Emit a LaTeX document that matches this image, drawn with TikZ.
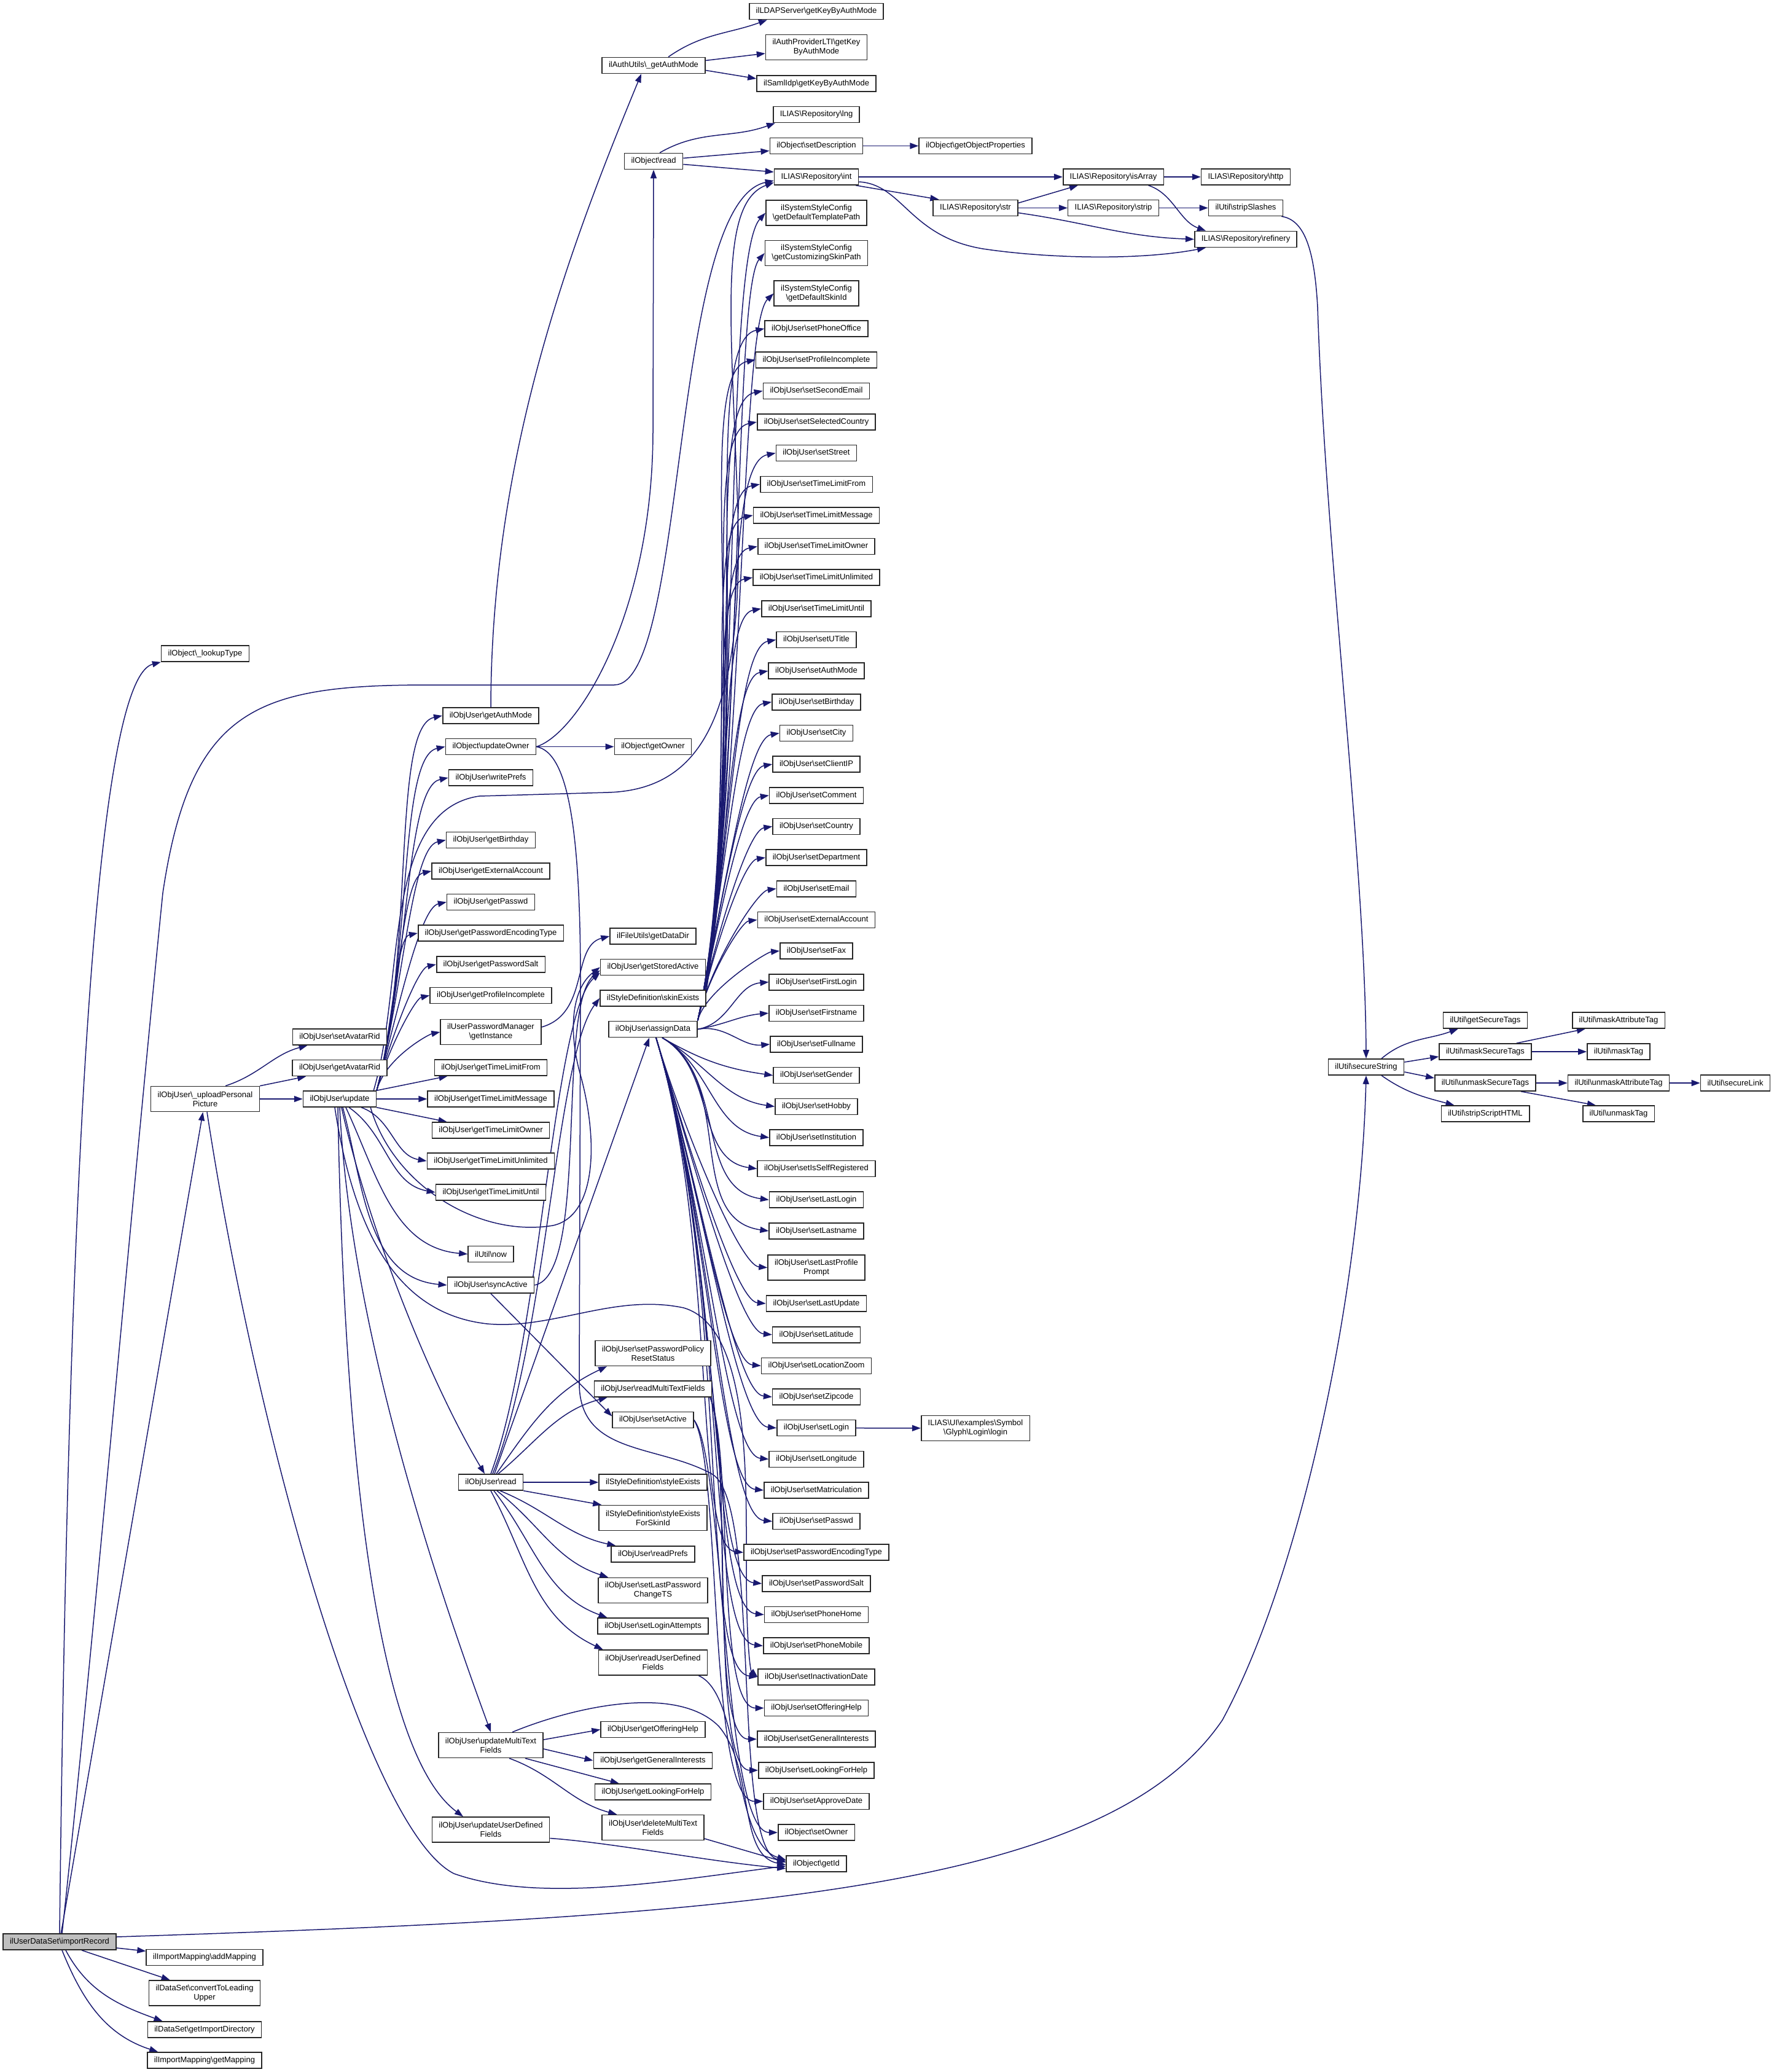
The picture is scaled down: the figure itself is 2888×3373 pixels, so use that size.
\documentclass[tikz,border=0pt]{standalone}
\usepackage{fontspec}
\setmainfont{Liberation Sans}
\usetikzlibrary{arrows.meta,calc,backgrounds}
\definecolor{edgeblue}{HTML}{191970}
\newcommand\bksl{\textbackslash}
\begin{document}
\begin{tikzpicture}[x=1pt,y=1pt,
 box/.style={draw=black!85,line width=1.6pt,fill=white,inner xsep=11pt,inner ysep=2pt,minimum height=26pt,font=\fontsize{13}{15}\selectfont,align=center},
 two/.style={minimum height=41pt},
 edge/.style={draw=edgeblue,line width=1.5pt,-{Triangle[length=14pt,width=10pt]}},
 fanB/.style={out=-30,in=172},
 ufan/.style={out=75,in=192,out looseness=1.0,in looseness=0.35}]
\useasboundingbox (0,0) rectangle (2888,-3373);
% ---------- column 0/1
\node[box,fill=black!25] (IR) at (97,-3161) {ilUserDataSet\bksl importRecord};
\node[box] (addMap) at (333,-3186.5) {ilImportMapping\bksl addMapping};
\node[box,two] (convLU) at (333,-3244.5) {ilDataSet\bksl convertToLeading\\Upper};
\node[box] (getImpDir) at (333,-3304) {ilDataSet\bksl getImportDirectory};
\node[box] (getMap) at (333,-3354) {ilImportMapping\bksl getMapping};
\node[box] (lookupType) at (334,-1064) {ilObject\bksl\_lookupType};
\node[box,two] (UPP) at (334,-1789) {ilObjUser\bksl\_uploadPersonal\\Picture};
% ---------- column 2
\node[box] (setAvRid) at (553,-1688) {ilObjUser\bksl setAvatarRid};
\node[box] (getAvRid) at (553,-1738.5) {ilObjUser\bksl getAvatarRid};
\node[box] (upd) at (553,-1789) {ilObjUser\bksl update};
% ---------- column 3
\foreach \n/\y/\t in {getAuthMode/1165/getAuthMode,writePrefs/1266/writePrefs,getBirthday/1367.5/getBirthday,getExtAcc/1418/getExternalAccount,getPasswd/1468.5/getPasswd,getPwEnc/1519/getPasswordEncodingType,getPwSalt/1570/getPasswordSalt,getProfInc/1620.5/getProfileIncomplete,gTLFrom/1738/getTimeLimitFrom,gTLMsg/1789/getTimeLimitMessage,gTLOwner/1840/getTimeLimitOwner,gTLUnl/1890/getTimeLimitUnlimited,gTLUntil/1941/getTimeLimitUntil,syncActive/2092/syncActive,uread/2413/read}
  {\node[box] (\n) at (799,-\y) {ilObjUser\bksl\t};}
\node[box] (updOwner) at (799,-1215.5) {ilObject\bksl updateOwner};
\node[box,two] (pwMgr) at (799,-1680) {ilUserPasswordManager\\\bksl getInstance};
\node[box] (now) at (799,-2041.5) {ilUtil\bksl now};
\node[box,two] (updMTF) at (799,-2841) {ilObjUser\bksl updateMultiText\\Fields};
\node[box,two] (updUDF) at (799,-2978.5) {ilObjUser\bksl updateUserDefined\\Fields};
% ---------- column 4
\node[box] (authUtils) at (1064,-106.5) {ilAuthUtils\bksl\_getAuthMode};
\node[box] (oread) at (1064,-262.5) {ilObject\bksl read};
\node[box] (getOwner) at (1063,-1215.5) {ilObject\bksl getOwner};
\node[box] (getDataDir) at (1063,-1524) {ilFileUtils\bksl getDataDir};
\node[box] (skinExists) at (1063,-1625) {ilStyleDefinition\bksl skinExists};
\foreach \n/\y/\t in {getStoredActive/1574.5/getStoredActive,assignData/1675.5/assignData,readMTF/2261/readMultiTextFields,setActive/2311.5/setActive,readPrefs/2530/readPrefs,sLoginAtt/2647/setLoginAttempts,gOffHelp/2815.5/getOfferingHelp,gGenInt/2866/getGeneralInterests,gLookHelp/2917/getLookingForHelp}
  {\node[box] (\n) at (1063,-\y) {ilObjUser\bksl\t};}
\node[box,two] (sPPRS) at (1063,-2203) {ilObjUser\bksl setPasswordPolicy\\ResetStatus};
\node[box] (styleExists) at (1063,-2413) {ilStyleDefinition\bksl styleExists};
\node[box,two] (styleExistsFS) at (1063,-2471) {ilStyleDefinition\bksl styleExists\\ForSkinId};
\node[box,two] (sLPCTS) at (1063,-2589) {ilObjUser\bksl setLastPassword\\ChangeTS};
\node[box,two] (readUDF) at (1063,-2706.5) {ilObjUser\bksl readUserDefined\\Fields};
\node[box,two] (delMTF) at (1063,-2975) {ilObjUser\bksl deleteMultiText\\Fields};
% ---------- column 5
\node[box] (ldap) at (1329,-18.5) {ilLDAPServer\bksl getKeyByAuthMode};
\node[box,two] (lti) at (1329,-77) {ilAuthProviderLTI\bksl getKey\\ByAuthMode};
\node[box] (saml) at (1329,-136) {ilSamlIdp\bksl getKeyByAuthMode};
\node[box] (lng) at (1329,-186.5) {ILIAS\bksl Repository\bksl lng};
\node[box] (setDesc) at (1329,-237.5) {ilObject\bksl setDescription};
\node[box] (rint) at (1329,-288) {ILIAS\bksl Repository\bksl int};
\node[box,two] (dtp) at (1329,-346.5) {ilSystemStyleConfig\\\bksl getDefaultTemplatePath};
\node[box,two] (csp) at (1329,-412) {ilSystemStyleConfig\\\bksl getCustomizingSkinPath};
\node[box,two] (dsi) at (1329,-477.7) {ilSystemStyleConfig\\\bksl getDefaultSkinId};
\foreach \n/\y/\t in {sPhoneOffice/535/setPhoneOffice,sProfileIncomplete/585.7/setProfileIncomplete,sSecondEmail/636.3/setSecondEmail,sSelectedCountry/687/setSelectedCountry,sStreet/737.6/setStreet,sTLFrom/788.3/setTimeLimitFrom,sTLMessage/838.9/setTimeLimitMessage,sTLOwner/889.6/setTimeLimitOwner,sTLUnlimited/940.2/setTimeLimitUnlimited,sTLUntil/990.9/setTimeLimitUntil,sUTitle/1041.5/setUTitle,sAuthMode/1092.2/setAuthMode,sBirthday/1142.8/setBirthday,sCity/1193.5/setCity,sClientIP/1244.1/setClientIP,sComment/1294.8/setComment,sCountry/1345.4/setCountry,sDepartment/1396.1/setDepartment,sEmail/1446.7/setEmail,sExtAcc/1497.4/setExternalAccount,sFax/1548/setFax,sFirstLogin/1598.7/setFirstLogin,sFirstname/1649.3/setFirstname,sFullname/1700/setFullname,sGender/1750.6/setGender,sHobby/1801.3/setHobby,sInstitution/1851.9/setInstitution,sIsSelfReg/1902.6/setIsSelfRegistered,sLastLogin/1953.2/setLastLogin,sLastname/2003.9/setLastname,sLastUpdate/2122/setLastUpdate,sLatitude/2172.7/setLatitude,sLocationZoom/2223.3/setLocationZoom,sZipcode/2274/setZipcode,sLogin/2324.6/setLogin,sLongitude/2375.3/setLongitude,sMatriculation/2425.9/setMatriculation,sPasswd/2476.6/setPasswd,sPwEnc/2527.2/setPasswordEncodingType,sPwSalt/2577.9/setPasswordSalt,sPhoneHome/2628.5/setPhoneHome,sPhoneMobile/2679.2/setPhoneMobile,sInactivation/2729.8/setInactivationDate,sOfferingHelp/2780.5/setOfferingHelp,sGeneralInterests/2831.1/setGeneralInterests,sLookingForHelp/2881.8/setLookingForHelp,sApproveDate/2932.4/setApproveDate}
  {\node[box] (\n) at (1329,-\y) {ilObjUser\bksl\t};}
\node[box,two] (sLastProfilePrompt) at (1329,-2063.5) {ilObjUser\bksl setLastProfile\\Prompt};
\node[box] (setOwner) at (1329,-2983.1) {ilObject\bksl setOwner};
\node[box] (getId) at (1329,-3033.7) {ilObject\bksl getId};
% ---------- right part
\node[box] (getObjProps) at (1588,-237.5) {ilObject\bksl getObjectProperties};
\node[box] (rstr) at (1588,-338.5) {ILIAS\bksl Repository\bksl str};
\node[box,two] (uiLogin) at (1588,-2325) {ILIAS\bksl UI\bksl examples\bksl Symbol\\\bksl Glyph\bksl Login\bksl login};
\node[box] (isArray) at (1812.5,-288) {ILIAS\bksl Repository\bksl isArray};
\node[box] (strip) at (1812.5,-338.5) {ILIAS\bksl Repository\bksl strip};
\node[box] (rhttp) at (2028,-288) {ILIAS\bksl Repository\bksl http};
\node[box] (stripSlashes) at (2028,-338.5) {ilUtil\bksl stripSlashes};
\node[box] (refinery) at (2028,-389.5) {ILIAS\bksl Repository\bksl refinery};
\node[box] (secStr) at (2224,-1737) {ilUtil\bksl secureString};
\node[box] (getSecTags) at (2418,-1661) {ilUtil\bksl getSecureTags};
\node[box] (maskSecTags) at (2418,-1712) {ilUtil\bksl maskSecureTags};
\node[box] (unmaskSecTags) at (2418,-1763) {ilUtil\bksl unmaskSecureTags};
\node[box] (stripScript) at (2418,-1813) {ilUtil\bksl stripScriptHTML};
\node[box] (maskAttr) at (2635,-1661) {ilUtil\bksl maskAttributeTag};
\node[box] (maskTag) at (2635,-1712) {ilUtil\bksl maskTag};
\node[box] (unmaskAttr) at (2635,-1763) {ilUtil\bksl unmaskAttributeTag};
\node[box] (unmaskTag) at (2635,-1813) {ilUtil\bksl unmaskTag};
\node[box] (secLink) at (2825,-1763) {ilUtil\bksl secureLink};

\begin{pgfonlayer}{background}
\fill[white] (0,0) rectangle (2888,-3373);
% importRecord
\draw[edge] (IR.north) .. controls (115,-1600) and (175,-1100) .. (lookupType.south west);
\draw[edge] ($(IR.north)+(4,0)$) .. controls (150,-2700) and (215,-1950) .. (265,-1454) .. controls (310,-1150) and (420,-1115) .. (700,-1115) -- (1000,-1115) .. controls (1120,-1115) and (1090,-330) .. ($(rint.west)+(0,-6)$);
\draw[edge] (IR) -- (UPP);
\draw[edge] ($(IR.east)+(0,8)$) .. controls (1200,-3120) and (1800,-3080) .. (1990,-2800) .. controls (2120,-2560) and (2215,-2100) .. (secStr.south);
\draw[edge] (IR) -- (addMap);
\draw[edge] ($(IR.south)+(36,0)$) -- ($(convLU.north west)+(35,0)$);
\draw[edge] ($(IR.south)+(10,0)$) to[out=-62,in=160] ($(getImpDir.north west)+(25,0)$);
\draw[edge] ($(IR.south)+(4,0)$) to[out=-68,in=162] ($(getMap.north west)+(18,0)$);
% uploadPersonalPicture
\draw[edge] ($(UPP.north)+(33,0)$) to[out=18,in=-165] ($(setAvRid.south west)+(25,0)$);
\draw[edge] (UPP.north east) -- ($(getAvRid.south west)+(23,0)$);
\draw[edge] (UPP) -- (upd);
\draw[edge] ($(UPP.south)+(3,0)$) .. controls (420,-2350) and (600,-2980) .. (739,-3050) .. controls (880,-3100) and (1100,-3060) .. ($(getId.west)+(0,-4)$);
% update
\foreach \t in {getAuthMode,updOwner,writePrefs,getBirthday,getExtAcc,getPasswd,getPwEnc,getPwSalt,getProfInc,pwMgr}
  \draw[edge] (upd.north east) to[ufan] (\t.west);
\draw[edge] (upd.north east) -- ($(gTLFrom.south west)+(22,0)$);
\draw[edge] (upd) -- (gTLMsg);
\draw[edge] (upd.south east) -- ($(gTLOwner.north west)+(25,0)$);
\draw[edge] ($(upd.south east)+(-25,0)$) to[out=-20,in=170] (gTLUnl.west);
\draw[edge] ($(upd.south east)+(-45,0)$) to[out=-35,in=170] (gTLUntil.west);
\draw[edge] ($(upd.south)+(10,0)$) to[out=-65,in=175] (now.west);
\draw[edge] ($(upd.south)+(5,0)$) to[out=-75,in=175] (syncActive.west);
\draw[edge] ($(upd.south)+(3,0)$) .. controls (600,-2000) and (700,-2250) .. ($(uread.north)+(-10,0)$);
\draw[edge] (upd.south) .. controls (570,-2150) and (700,-2550) .. (updMTF.north);
\draw[edge] ($(upd.south)+(-3,0)$) .. controls (560,-2350) and (610,-2850) .. ($(updUDF.north)+(-45,0)$);
\draw[edge] ($(upd.north east)+(-5,0)$) .. controls (660,-1600) and (620,-1320) .. (780,-1296) -- (990,-1290) .. controls (1150,-1285) and (1215,-1150) .. (1200,-800) .. controls (1190,-520) and (1170,-330) .. ($(rint.west)+(0,-9)$);
\draw[edge] ($(upd.south east)+(-10,0)$) .. controls (640,-1930) and (780,-2015) .. (900,-1995) .. controls (970,-1980) and (975,-1860) .. (945,-1750) .. controls (925,-1680) and (930,-1610) .. (getStoredActive.west);
\draw[edge] ($(upd.south)+(-8,0)$) .. controls (580,-2030) and (660,-2140) .. (793,-2155) .. controls (900,-2165) and (1000,-2105) .. (1113,-2129) .. controls (1220,-2160) and (1215,-2400) .. (1215,-2550) .. controls (1215,-2680) and (1222,-2720) .. (sInactivation.west);
% column 3 sources
\draw[edge] (getAuthMode.north) .. controls (800,-750) and (920,-420) .. ($(authUtils.south)+(-20,0)$);
\draw[edge] (updOwner) -- (getOwner);
\draw[edge] (updOwner.east) .. controls (940,-1195) and (1063,-1000) .. (1063,-700) -- (oread.south);
\draw[edge] (updOwner.east) .. controls (925,-1225) and (945,-1350) .. (945,-1600) -- (943,-2250) .. controls (942,-2370) and (1070,-2350) .. (1160,-2400) .. controls (1240,-2450) and (1190,-3010) .. ($(getId.west)+(0,4)$);
\draw[edge] ($(pwMgr.east)+(0,8)$) .. controls (960,-1650) and (930,-1540) .. (getDataDir.west);
\draw[edge] (syncActive.east) .. controls (960,-2075) and (905,-1640) .. ($(getStoredActive.west)+(0,-5)$);
\draw[edge] (syncActive.south) -- ($(setActive.west)+(0,6)$);
% ilObjUser read
\draw[edge] ($(uread.north)+(6,0)$) -- ($(assignData.south)+(-6,0)$);
\draw[edge] ($(uread.north)+(3,0)$) .. controls (890,-2180) and (905,-1720) .. (skinExists.west);
\draw[edge] (uread.north) .. controls (880,-2180) and (900,-1650) .. ($(getStoredActive.west)+(0,-9)$);
\draw[edge] ($(uread.north)+(9,0)$) to[out=55,in=205] ($(sPPRS.south west)+(20,0)$);
\draw[edge] ($(uread.north)+(12,0)$) to[out=40,in=195] ($(readMTF.south west)+(22,0)$);
\draw[edge] (uread) -- (styleExists);
\draw[edge] (uread.south east) -- ($(styleExistsFS.north west)+(5,0)$);
\draw[edge] ($(uread.south)+(15,0)$) to[out=-22,in=168] ($(readPrefs.north west)+(8,0)$);
\draw[edge] ($(uread.south)+(10,0)$) to[out=-38,in=162] ($(sLPCTS.north west)+(17,0)$);
\draw[edge] ($(uread.south)+(5,0)$) to[out=-52,in=160] ($(sLoginAtt.north west)+(16,0)$);
\draw[edge] (uread.south) to[out=-62,in=155] ($(readUDF.north west)+(8,0)$);
% updateMultiTextFields etc.
\draw[edge] ($(updMTF.east)+(0,9)$) -- (gOffHelp.west);
\draw[edge] ($(updMTF.east)+(0,-6)$) -- (gGenInt.west);
\draw[edge] ($(updMTF.south east)+(-30,0)$) -- ($(gLookHelp.north west)+(40,0)$);
\draw[edge] ($(updMTF.south)+(30,0)$) to[out=-20,in=165] ($(delMTF.north west)+(25,0)$);
\draw[edge] ($(updMTF.north)+(35,0)$) .. controls (930,-2780) and (1100,-2740) .. (1170,-2810) .. controls (1230,-2880) and (1200,-3020) .. ($(getId.west)+(0,-2)$);
\draw[edge] ($(updUDF.east)+(0,-14)$) .. controls (1000,-3000) and (1150,-3030) .. ($(getId.west)+(0,-8)$);
\draw[edge] ($(delMTF.east)+(0,-18)$) -- ($(getId.west)+(0,2)$);
\draw[edge] ($(readUDF.south east)+(-15,0)$) .. controls (1210,-2760) and (1190,-3000) .. ($(getId.west)+(0,6)$);
\foreach \t in {sOfferingHelp,sGeneralInterests,sLookingForHelp}
  \draw[edge] ($(readMTF.east)+(-5,-10)$) .. controls +(40,-80) and +(-80,0) .. (\t.west);
\draw[edge] (setActive.east) .. controls +(50,-60) and +(-90,0) .. (setOwner.west);
\draw[edge] (setActive.east) .. controls +(45,-70) and +(-90,0) .. (sApproveDate.west);
% assignData fan (above)
\foreach \n/\y in {sPhoneOffice/535,sProfileIncomplete/585.7,sSecondEmail/636.3,sSelectedCountry/687,sStreet/737.6,sTLFrom/788.3,sTLMessage/838.9,sTLOwner/889.6,sTLUnlimited/940.2,sTLUntil/990.9,sUTitle/1041.5,sAuthMode/1092.2,sBirthday/1142.8,sCity/1193.5,sClientIP/1244.1,sComment/1294.8,sCountry/1345.4,sDepartment/1396.1,sEmail/1446.7,sExtAcc/1497.4,sFax/1548}
  {\pgfmathsetmacro\hh{1662-\y}
   \pgfmathsetmacro\ax{0.09*\hh}\pgfmathsetmacro\ay{0.42*\hh}
   \pgfmathsetmacro\bx{-0.09*\hh-12}\pgfmathsetmacro\by{-0.02*\hh}
   \draw[edge] (assignData.north east) .. controls +(\ax,\ay) and +(\bx,\by) .. (\n.west);}
\foreach \t in {sFirstLogin,sFirstname,sFullname}
  \draw[edge] (assignData.east) to[out=10,in=185] (\t.west);
\foreach \t in {sGender,sHobby,sInstitution,sIsSelfReg,sLastLogin,sLastname}
  \draw[edge] ($(assignData.south)+(15,0)$) to[fanB] (\t.west);
% assignData fan (below)
\foreach \n/\y in {sLastProfilePrompt/2063.5,sLastUpdate/2122,sLatitude/2172.7,sLocationZoom/2223.3,sZipcode/2274,sLogin/2324.6,sLongitude/2375.3,sMatriculation/2425.9,sPasswd/2476.6,sPwEnc/2527.2,sPwSalt/2577.9,sPhoneHome/2628.5,sPhoneMobile/2679.2,sInactivation/2729.8}
  {\pgfmathsetmacro\dd{\y-1688}
   \pgfmathsetmacro\ax{0.12*\dd}\pgfmathsetmacro\ay{-0.4*\dd}
   \pgfmathsetmacro\bx{-0.08*\dd-15}\pgfmathsetmacro\by{0.01*\dd}
   \draw[edge] ($(assignData.south)+(5,0)$) .. controls +(\ax,\ay) and +(\bx,\by) .. (\n.west);}
% skinExists
\draw[edge] (skinExists.north east) .. controls (1205,-1200) and (1180,-420) .. (dtp.west);
\draw[edge] (skinExists.north east) .. controls (1210,-1200) and (1195,-470) .. (csp.west);
\draw[edge] (skinExists.north east) .. controls (1215,-1200) and (1205,-530) .. (dsi.west);
% top part
\draw[edge] ($(authUtils.north)+(24,0)$) to[out=35,in=200] ($(ldap.south west)+(30,0)$);
\draw[edge] ($(authUtils.east)+(0,8)$) -- ($(lti.west)+(0,-10)$);
\draw[edge] ($(authUtils.east)+(0,-8)$) -- ($(saml.west)+(0,8)$);
\draw[edge] ($(oread.north)+(10,0)$) to[out=30,in=200] ($(lng.south west)+(4,0)$);
\draw[edge] ($(oread.east)+(0,5)$) -- ($(setDesc.west)+(0,-8)$);
\draw[edge] ($(oread.east)+(0,-5)$) -- ($(rint.west)+(0,8)$);
\draw[edge] (setDesc) -- (getObjProps);
\draw[edge] (rint) -- (isArray);
\draw[edge] ($(rint.south east)+(-5,0)$) -- ($(rstr.north west)+(10,0)$);
\draw[edge] ($(rint.east)+(0,-8)$) .. controls (1470,-300) and (1480,-385) .. (1600,-405) .. controls (1700,-420) and (1850,-425) .. ($(refinery.south west)+(19,0)$);
\draw[edge] ($(rstr.east)+(0,8)$) -- ($(isArray.south west)+(25,0)$);
\draw[edge] (rstr) -- (strip);
\draw[edge] ($(rstr.east)+(0,-8)$) to[out=-8,in=178] (refinery.west);
\draw[edge] (isArray) -- (rhttp);
\draw[edge] ($(isArray.south)+(57,0)$) .. controls (1910,-315) and (1920,-360) .. ($(refinery.north west)+(19,0)$);
\draw[edge] (strip) -- (stripSlashes);
\draw[edge] ($(stripSlashes.south east)+(-3,0)$) .. controls (2125,-358) and (2140,-410) .. (2145,-500) .. controls (2158,-900) and (2222,-1400) .. (secStr.north);
% secureString
\draw[edge] ($(secStr.north)+(25,0)$) to[out=40,in=200] ($(getSecTags.south west)+(25,0)$);
\draw[edge] ($(secStr.east)+(0,8)$) -- ($(maskSecTags.west)+(0,-8)$);
\draw[edge] ($(secStr.east)+(0,-8)$) -- ($(unmaskSecTags.west)+(0,8)$);
\draw[edge] ($(secStr.south)+(25,0)$) to[out=-35,in=165] ($(stripScript.north west)+(22,0)$);
\draw[edge] ($(maskSecTags.north east)+(-25,0)$) -- ($(maskAttr.south west)+(22,0)$);
\draw[edge] (maskSecTags) -- (maskTag);
\draw[edge] (unmaskSecTags) -- (unmaskAttr);
\draw[edge] ($(unmaskSecTags.south east)+(-25,0)$) -- ($(unmaskTag.north west)+(22,0)$);
\draw[edge] (unmaskAttr) -- (secLink);
\draw[edge] (sLogin) -- (uiLogin);
\end{pgfonlayer}
\end{tikzpicture}
\end{document}
